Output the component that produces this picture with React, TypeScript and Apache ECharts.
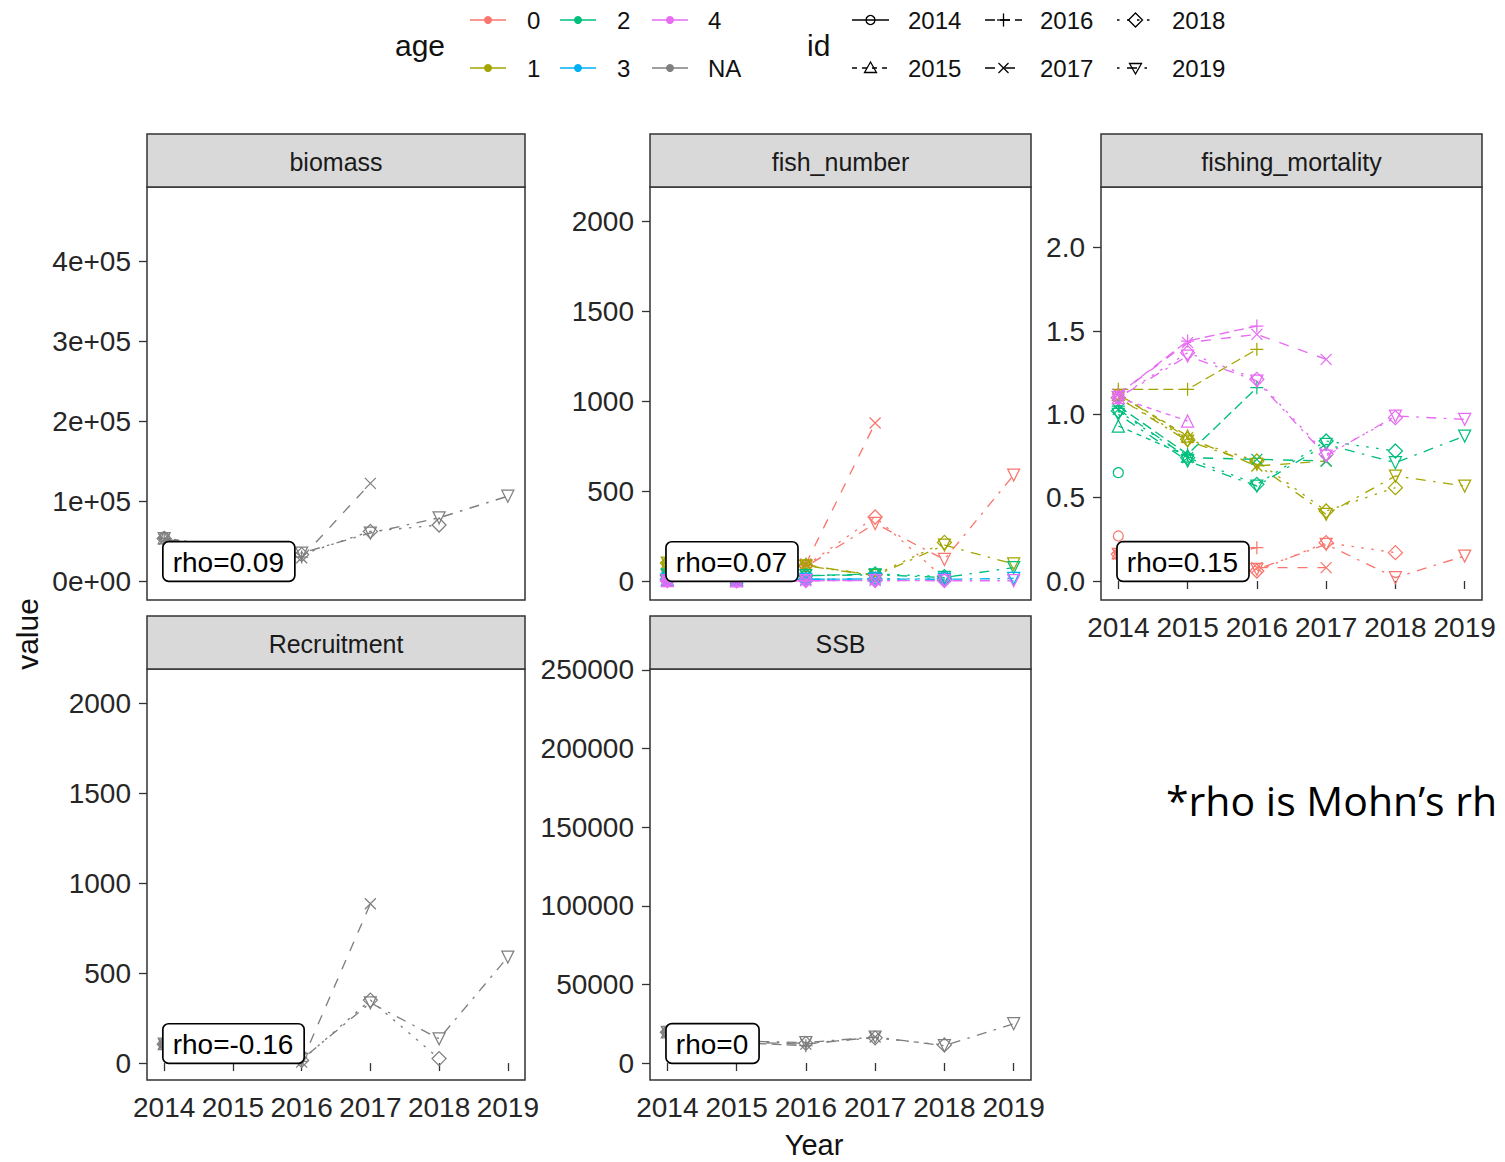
import React, { useEffect, useRef } from 'react';
import * as echarts from 'echarts';

// ---- data -------------------------------------------------------------
const years = [2014, 2015, 2016, 2017, 2018, 2019];
const runIds = ['2014', '2015', '2016', '2017', '2018', '2019'];
const ageLevels = ['0', '1', '2', '3', '4', 'NA'];

// each run (peel) covers 2014 .. its terminal year
const biomassNA = [
  [55000],
  [54000, 40000],
  [53000, 37000, 30000],
  [52000, 36000, 29000, 122000],
  [53000, 37000, 33000, 62000, 70000],
  [53000, 37000, 35000, 60000, 79000, 106000],
];

const fishNumberAge0 = [
  [30],
  [30, 10],
  [30, 10, 90],
  [30, 10, 95, 878],
  [30, 10, 85, 356, 15],
  [30, 10, 80, 320, 120, 589],
];
const fishNumberAge1 = [
  [100],
  [100, 50],
  [100, 50, 95],
  [100, 50, 90, 30],
  [100, 50, 85, 35, 215],
  [100, 50, 85, 30, 200, 95],
];
const fishNumberAge2 = [
  [35],
  [35, 20],
  [35, 20, 30],
  [35, 20, 30, 40],
  [35, 20, 30, 40, 25],
  [35, 20, 30, 35, 20, 75],
];
const fishNumberAge3 = [
  [10],
  [10, 8],
  [10, 8, 10],
  [10, 8, 10, 12],
  [10, 8, 10, 12, 12],
  [10, 8, 10, 12, 10, 15],
];
const fishNumberAge4 = [
  [2],
  [2, 1],
  [2, 1, 2],
  [2, 1, 2, 3],
  [2, 1, 2, 3, 3],
  [2, 1, 2, 3, 2, 2],
];

const mortalityAge0 = [
  [0.27],
  [0.17, 0.1],
  [0.17, 0.1, 0.2],
  [0.16, 0.1, 0.08, 0.08],
  [0.16, 0.1, 0.06, 0.23, 0.17],
  [0.16, 0.1, 0.07, 0.22, 0.02, 0.15],
];
const mortalityAge1 = [
  [1.12],
  [1.12, 0.87],
  [1.15, 1.15, 1.39],
  [1.12, 0.86, 0.69, 0.72],
  [1.1, 0.85, 0.72, 0.42, 0.56],
  [1.1, 0.84, 0.7, 0.4, 0.63, 0.57],
];
const mortalityAge2 = [
  [0.65],
  [0.93, 0.75],
  [1.05, 0.76, 1.16],
  [1.03, 0.74, 0.73, 0.72],
  [1.02, 0.74, 0.58, 0.84, 0.78],
  [1.0, 0.72, 0.57, 0.82, 0.71, 0.87],
];
const mortalityAge4 = [
  [1.1],
  [1.1, 0.96],
  [1.12, 1.44, 1.53],
  [1.12, 1.43, 1.48, 1.33],
  [1.1, 1.37, 1.21, 0.76, 0.98],
  [1.1, 1.35, 1.2, 0.75, 0.99, 0.97],
];

const recruitmentNA = [
  [110],
  [108, 45],
  [105, 40, 10],
  [105, 40, 5, 885],
  [105, 40, 15, 350, 25],
  [105, 40, 20, 335, 135, 589],
];

const ssbNA = [
  [20000],
  [19800, 14000],
  [19500, 13000, 11000],
  [19500, 13500, 12000, 16500],
  [19500, 13500, 12500, 16000, 11500],
  [19500, 14000, 13000, 16500, 11000, 25000],
];

const rhoLabels = ['rho=0.09', 'rho=0.07', 'rho=0.15', 'rho=-0.16', 'rho=0'];
const panelTitles = ['biomass', 'fish_number', 'fishing_mortality', 'Recruitment', 'SSB'];
const biomassTicks = [0, 100000, 200000, 300000, 400000];
const countTicks = [0, 500, 1000, 1500, 2000];
const mortalityTicks = [0, 0.5, 1, 1.5, 2];
const ssbTicks = [0, 50000, 100000, 150000, 200000, 250000];

// ---- styling ----------------------------------------------------------
const FONT = '"Liberation Sans", Arial, Helvetica, sans-serif';
const ageColors: Record<string, string> = {
  '0': '#F8766D',
  '1': '#A3A500',
  '2': '#00BF7D',
  '3': '#00B0F6',
  '4': '#E76BF3',
  NA: '#7F7F7F',
};
const runDash: any[] = ['solid', [5, 5], [10, 5], [10, 10], [2.5, 7.5], [2.5, 7.5, 10, 7.5]];
const PLUS = 'path://M5,0L5,10M0,5L10,5';
const CROSS = 'path://M0,0L10,10M10,0L0,10';
const runSymbols = [
  { symbol: 'circle', size: 10, rotate: 0 },
  { symbol: 'triangle', size: 12, rotate: 0 },
  { symbol: PLUS, size: 13, rotate: 0 },
  { symbol: CROSS, size: 11, rotate: 0 },
  { symbol: 'diamond', size: 14, rotate: 0 },
  { symbol: 'triangle', size: 12, rotate: 180 },
];

type Group = { age: string; runs: number[][] };
type Panel = {
  title: string;
  box: { left: number; top: number; width: number; height: number };
  yMin: number;
  yMax: number;
  yTicks: number[];
  fmt: (v: number) => string;
  rho: string;
  showX: boolean;
  groups: Group[];
};

const plain = (v: number) => String(v);

const panels: Panel[] = [
  {
    title: panelTitles[0],
    box: { left: 147, top: 187, width: 378, height: 413 },
    yMin: -23750,
    yMax: 492500,
    yTicks: biomassTicks,
    fmt: (v) => (v === 0 ? '0e+00' : `${Math.round(v / 1e5)}e+05`),
    rho: rhoLabels[0],
    showX: false,
    groups: [{ age: 'NA', runs: biomassNA }],
  },
  {
    title: panelTitles[1],
    box: { left: 650, top: 187, width: 381, height: 413 },
    yMin: -105,
    yMax: 2189,
    yTicks: countTicks,
    fmt: plain,
    rho: rhoLabels[1],
    showX: false,
    groups: [
      { age: '0', runs: fishNumberAge0 },
      { age: '1', runs: fishNumberAge1 },
      { age: '2', runs: fishNumberAge2 },
      { age: '3', runs: fishNumberAge3 },
      { age: '4', runs: fishNumberAge4 },
    ],
  },
  {
    title: panelTitles[2],
    box: { left: 1101, top: 187, width: 381, height: 413 },
    yMin: -0.114,
    yMax: 2.364,
    yTicks: mortalityTicks,
    fmt: (v) => v.toFixed(1),
    rho: rhoLabels[2],
    showX: true,
    groups: [
      { age: '0', runs: mortalityAge0 },
      { age: '1', runs: mortalityAge1 },
      { age: '2', runs: mortalityAge2 },
      { age: '4', runs: mortalityAge4 },
    ],
  },
  {
    title: panelTitles[3],
    box: { left: 147, top: 669, width: 378, height: 411 },
    yMin: -94,
    yMax: 2189,
    yTicks: countTicks,
    fmt: plain,
    rho: rhoLabels[3],
    showX: true,
    groups: [{ age: 'NA', runs: recruitmentNA }],
  },
  {
    title: panelTitles[4],
    box: { left: 650, top: 669, width: 381, height: 411 },
    yMin: -10814,
    yMax: 250636,
    yTicks: ssbTicks,
    fmt: plain,
    rho: rhoLabels[4],
    showX: true,
    groups: [{ age: 'NA', runs: ssbNA }],
  },
];

const STRIP_H = 53;

function legendShape(kind: number, cx: number, cy: number): any[] {
  const stroke = { stroke: '#000', lineWidth: 1.3, fill: 'none' };
  switch (kind) {
    case 0:
      return [{ type: 'circle', shape: { cx, cy, r: 4.5 }, style: stroke }];
    case 1:
      return [{ type: 'polygon', shape: { points: [[cx, cy - 6], [cx + 6, cy + 4.5], [cx - 6, cy + 4.5]] }, style: stroke }];
    case 2:
      return [
        { type: 'line', shape: { x1: cx - 6.5, y1: cy, x2: cx + 6.5, y2: cy }, style: stroke },
        { type: 'line', shape: { x1: cx, y1: cy - 6.5, x2: cx, y2: cy + 6.5 }, style: stroke },
      ];
    case 3:
      return [
        { type: 'line', shape: { x1: cx - 5, y1: cy - 5, x2: cx + 5, y2: cy + 5 }, style: stroke },
        { type: 'line', shape: { x1: cx + 5, y1: cy - 5, x2: cx - 5, y2: cy + 5 }, style: stroke },
      ];
    case 4:
      return [{ type: 'polygon', shape: { points: [[cx, cy - 7], [cx + 7, cy], [cx, cy + 7], [cx - 7, cy]] }, style: stroke }];
    default:
      return [{ type: 'polygon', shape: { points: [[cx - 6, cy - 4.5], [cx + 6, cy - 4.5], [cx, cy + 6]] }, style: stroke }];
  }
}

function buildOption() {
  const grid: any[] = [];
  const xAxis: any[] = [];
  const yAxis: any[] = [];
  const series: any[] = [];
  const graphic: any[] = [];

  panels.forEach((p, pi) => {
    grid.push({
      ...p.box,
      show: true,
      backgroundColor: '#fff',
      borderColor: '#333',
      borderWidth: 1.5,
      containLabel: false,
    });
    xAxis.push({
      type: 'value',
      gridIndex: pi,
      min: 2013.75,
      max: 2019.25,
      splitLine: { show: false },
      axisLine: { show: false },
      axisTick: { show: p.showX, length: 8, customValues: years, lineStyle: { color: '#333', width: 1.3 } },
      axisLabel: {
        show: p.showX,
        customValues: years,
        margin: 13,
        fontSize: 28,
        color: '#262626',
        fontFamily: FONT,
        formatter: (v: number) => String(v),
      },
    });
    yAxis.push({
      type: 'value',
      gridIndex: pi,
      min: p.yMin,
      max: p.yMax,
      splitLine: { show: false },
      axisLine: { show: false },
      axisTick: { show: true, length: 8, customValues: p.yTicks, lineStyle: { color: '#333', width: 1.3 } },
      axisLabel: {
        show: true,
        customValues: p.yTicks,
        margin: 16,
        fontSize: 28,
        color: '#262626',
        fontFamily: FONT,
        formatter: p.fmt,
      },
    });

    p.groups.forEach((g) => {
      const color = ageColors[g.age];
      g.runs.forEach((run, k) => {
        const sym = runSymbols[k];
        series.push({
          type: 'line',
          name: `${p.title}-${g.age}-${runIds[k]}`,
          xAxisIndex: pi,
          yAxisIndex: pi,
          data: run.map((v, i) => [years[i], v]),
          symbol: sym.symbol,
          symbolSize: sym.size,
          symbolRotate: sym.rotate,
          showSymbol: true,
          lineStyle: { color, width: 1.35, type: runDash[k] },
          itemStyle: { color: 'rgba(0,0,0,0)', borderColor: color, borderWidth: 1.25 },
          emphasis: { disabled: true },
          silent: true,
          z: 2,
        });
      });
    });

    // Mohn's rho tag anchored at (2014, 0)
    series.push({
      type: 'scatter',
      xAxisIndex: pi,
      yAxisIndex: pi,
      data: [[years[0], 0]],
      symbolSize: 1,
      itemStyle: { color: 'rgba(0,0,0,0)', opacity: 1 },
      silent: true,
      z: 10,
      label: {
        show: true,
        position: [0, 0],
        align: 'left',
        verticalAlign: 'bottom',
        formatter: p.rho,
        fontSize: 28,
        fontFamily: FONT,
        color: '#000',
        opacity: 1,
        backgroundColor: '#fff',
        borderColor: '#000',
        borderWidth: 1.7,
        borderRadius: 5,
        padding: [6, 10, 4, 9],
      },
    });

    // facet strip
    graphic.push({
      type: 'rect',
      shape: { x: p.box.left, y: p.box.top - STRIP_H, width: p.box.width, height: STRIP_H },
      style: { fill: '#D9D9D9', stroke: '#333', lineWidth: 1.5 },
      z: 5,
    });
    graphic.push({
      type: 'text',
      x: p.box.left + p.box.width / 2,
      y: p.box.top - STRIP_H / 2 + 1,
      style: { text: p.title, fontSize: 25, fontFamily: FONT, fill: '#1a1a1a', align: 'center', verticalAlign: 'middle' },
      z: 6,
    });
  });

  // axis titles
  graphic.push({
    type: 'text',
    x: 27,
    y: 634,
    rotation: Math.PI / 2,
    style: { text: 'value', fontSize: 30, fontFamily: FONT, fill: '#111', align: 'center', verticalAlign: 'middle' },
  });
  graphic.push({
    type: 'text',
    x: 814,
    y: 1145,
    style: { text: 'Year', fontSize: 29, fontFamily: FONT, fill: '#111', align: 'center', verticalAlign: 'middle' },
  });

  // legend: age
  const rowY = [20, 68];
  graphic.push({
    type: 'text',
    x: 395,
    y: 45,
    style: { text: 'age', fontSize: 30, fontFamily: FONT, fill: '#111', align: 'left', verticalAlign: 'middle' },
  });
  const ageKeyX = [470, 560, 652];
  const ageTextX = [527, 617, 708];
  ageLevels.forEach((lvl, i) => {
    const col = Math.floor(i / 2);
    const row = i % 2;
    const x0 = ageKeyX[col];
    const y = rowY[row];
    const c = ageColors[lvl];
    graphic.push({ type: 'line', shape: { x1: x0, y1: y, x2: x0 + 36, y2: y }, style: { stroke: c, lineWidth: 1.6 } });
    graphic.push({ type: 'circle', shape: { cx: x0 + 18, cy: y, r: 4 }, style: { fill: c } });
    graphic.push({
      type: 'text',
      x: ageTextX[col],
      y,
      style: { text: lvl, fontSize: 24, fontFamily: FONT, fill: '#111', align: 'left', verticalAlign: 'middle' },
    });
  });

  // legend: id
  graphic.push({
    type: 'text',
    x: 807,
    y: 45,
    style: { text: 'id', fontSize: 30, fontFamily: FONT, fill: '#111', align: 'left', verticalAlign: 'middle' },
  });
  const idKeyX = [852, 985, 1117];
  const idTextX = [908, 1040, 1172];
  runIds.forEach((id, i) => {
    const col = Math.floor(i / 2);
    const row = i % 2;
    const x0 = idKeyX[col];
    const y = rowY[row];
    const dash = runDash[i];
    graphic.push({
      type: 'line',
      shape: { x1: x0, y1: y, x2: x0 + 37, y2: y },
      style: { stroke: '#000', lineWidth: 1.4, lineDash: dash === 'solid' ? null : dash },
    });
    legendShape(i, x0 + 18.5, y).forEach((s) => graphic.push(s));
    graphic.push({
      type: 'text',
      x: idTextX[col],
      y,
      style: { text: id, fontSize: 24, fontFamily: FONT, fill: '#111', align: 'left', verticalAlign: 'middle' },
    });
  });

  // footnote
  graphic.push({
    type: 'text',
    x: 1166,
    y: 800,
    style: {
      text: '*rho is Mohn\u2019s rh',
      fontSize: 41,
      fontFamily: '"Open Sans", "Noto Sans", sans-serif',
      fill: '#000',
      align: 'left',
      verticalAlign: 'middle',
    },
  });

  return {
    animation: false,
    backgroundColor: '#fff',
    grid,
    xAxis,
    yAxis,
    series,
    graphic,
  };
}

export default function App() {
  const ref = useRef<HTMLDivElement>(null);
  useEffect(() => {
    if (!ref.current) return;
    const chart = echarts.init(ref.current, undefined, { renderer: 'svg' });
    chart.setOption(buildOption() as any);
    return () => chart.dispose();
  }, []);
  return (
    <div
      ref={ref}
      style={{ position: 'absolute', left: 0, top: 0, width: 1505, height: 1162, background: '#fff' }}
    />
  );
}
